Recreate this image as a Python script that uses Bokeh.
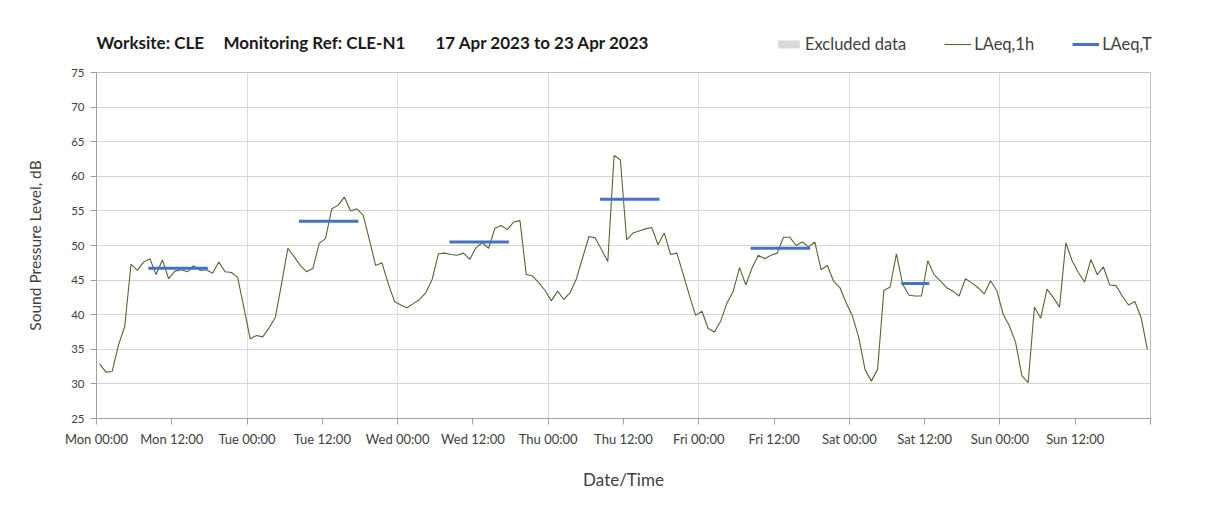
from bokeh.plotting import figure
from bokeh.layouts import column
from bokeh.models import Range1d, FixedTicker, Legend, LegendItem, Label
from bokeh.embed import file_html
from bokeh.resources import INLINE

# ---------------- data ----------------
tick_hours = list(range(0, 169, 12))
tick_labels = ["Mon 00:00", "Mon 12:00", "Tue 00:00", "Tue 12:00", "Wed 00:00",
               "Wed 12:00", "Thu 00:00", "Thu 12:00", "Fri 00:00", "Fri 12:00",
               "Sat 00:00", "Sat 12:00", "Sun 00:00", "Sun 12:00", ""]
day_start_hours = [24, 48, 72, 96, 120, 144]

laeq_1h_mon = [32.9, 31.7, 31.8, 35.6, 38.3, 47.3, 46.4, 47.6, 48.1, 45.8, 47.9, 45.2,
               46.3, 46.5, 46.2, 47.1, 46.4, 46.5, 46.0, 47.6, 46.2, 46.1, 45.4, 41.0]
laeq_1h_tue = [36.5, 37.0, 36.8, 38.1, 39.6, 44.5, 49.6, 48.4, 47.1, 46.2, 46.7, 50.3,
               51.0, 55.3, 55.8, 57.0, 55.0, 55.3, 54.4, 50.8, 47.1, 47.5, 44.5, 41.9]
laeq_1h_wed = [41.4, 41.0, 41.6, 42.2, 43.2, 45.1, 48.8, 48.9, 48.7, 48.6, 48.9, 48.0,
               49.7, 50.4, 49.6, 52.5, 52.9, 52.3, 53.4, 53.6, 45.8, 45.6, 44.6, 43.5]
laeq_1h_thu = [42.0, 43.4, 42.2, 43.2, 45.2, 48.3, 51.3, 51.1, 49.4, 47.7, 63.0, 62.4,
               50.8, 51.8, 52.1, 52.4, 52.6, 50.1, 51.8, 48.7, 48.9, 45.9, 42.8, 39.9]
laeq_1h_fri = [40.5, 38.0, 37.5, 39.1, 41.7, 43.4, 46.8, 44.3, 46.8, 48.6, 48.1, 48.6,
               48.9, 51.2, 51.2, 50.0, 50.5, 49.8, 50.5, 46.5, 47.1, 44.8, 43.9, 41.7]
laeq_1h_sat = [39.8, 36.7, 32.1, 30.4, 32.1, 43.5, 44.0, 48.8, 44.4, 42.8, 42.7, 42.7,
               47.8, 45.8, 44.9, 43.9, 43.4, 42.7, 45.2, 44.6, 43.9, 43.0, 44.9, 43.5]
laeq_1h_sun = [40.1, 38.4, 36.0, 31.2, 30.2, 41.1, 39.5, 43.7, 42.5, 41.1, 50.4, 47.8,
               46.1, 44.7, 48.0, 45.8, 46.9, 44.3, 44.2, 42.7, 41.4, 41.9, 39.6, 35.0]
laeq_1h = (laeq_1h_mon + laeq_1h_tue + laeq_1h_wed + laeq_1h_thu +
           laeq_1h_fri + laeq_1h_sat + laeq_1h_sun)

# LAeq,T assessment periods (first hour, last hour + 1)
period_start = [8, 32, 56, 80, 104, 128]
period_end = [18, 42, 66, 90, 114, 133]
laeq_t = [46.7, 53.5, 50.5, 56.7, 49.6, 44.5]

excluded_start = []
excluded_end = []

title_parts = ["Worksite: CLE", "Monitoring Ref: CLE-N1", "17 Apr 2023 to 23 Apr 2023"]
legend_labels = ["Excluded data", "LAeq,1h", "LAeq,T"]

# hourly values plotted at the middle of each hour
hour_mid = [h + 0.5 for h in range(len(laeq_1h))]
seg_x0 = [s + 0.5 for s in period_start]
seg_x1 = [e - 0.5 for e in period_end]

FONT = "Lato"
TXT = "#404040"
C_1H = "#4f6a30"
C_T = "#4472C4"
C_EXCL = "#d9d9d9"
W = 1200
HEAD_H = 60

# ---------------- main plot ----------------
p = figure(width=W, height=508 - HEAD_H, output_backend="svg", toolbar_location=None,
           x_range=Range1d(0, 168), y_range=Range1d(25, 75),
           min_border_left=96, min_border_right=50, min_border_top=72 - HEAD_H,
           min_border_bottom=90)
p.outline_line_color = "#bfbfbf"
p.background_fill_color = "white"
p.border_fill_color = "white"

p.quad(left=excluded_start, right=excluded_end, bottom=[], top=[],
       fill_color=C_EXCL, line_color=None)
p.line(hour_mid, laeq_1h, line_color=C_1H, line_width=1.1)
p.segment(x0=seg_x0, x1=seg_x1, y0=laeq_t, y1=laeq_t,
          line_color=C_T, line_width=3, line_cap="square")

p.yaxis.ticker = FixedTicker(ticks=list(range(25, 76, 5)))
p.xaxis.ticker = FixedTicker(ticks=tick_hours)
p.xaxis.major_label_overrides = {h: lab for h, lab in zip(tick_hours, tick_labels)}
for ax in (p.xaxis[0], p.yaxis[0]):
    ax.axis_line_color = "#a0a0a0"
    ax.major_tick_line_color = "#a0a0a0"
    ax.major_tick_out = 6
    ax.major_tick_in = 0
    ax.minor_tick_line_color = None
    ax.major_label_text_font = FONT
    ax.major_label_text_color = TXT
    ax.axis_label_text_font = FONT
    ax.axis_label_text_color = TXT
    ax.axis_label_text_font_style = "normal"
p.xaxis.major_label_text_font_size = "13px"
p.yaxis.major_label_text_font_size = "11.5px"
p.xaxis.major_label_standoff = 6
p.yaxis.major_label_standoff = 6
p.xaxis.axis_label = "Date/Time"
p.yaxis.axis_label = "Sound Pressure Level, dB"
p.xaxis.axis_label_text_font_size = "17px"
p.yaxis.axis_label_text_font_size = "15.5px"
p.xaxis.axis_label_standoff = 19
p.yaxis.axis_label_standoff = 24

p.ygrid.ticker = FixedTicker(ticks=list(range(25, 76, 5)))
p.ygrid.grid_line_color = "#d4d4d4"
p.xgrid.ticker = FixedTicker(ticks=day_start_hours)
p.xgrid.grid_line_color = "#dcdcdc"

# ---------------- header (title + legend) ----------------
head = figure(width=W, height=HEAD_H, output_backend="svg", toolbar_location=None,
              x_range=Range1d(0, W), y_range=Range1d(0, HEAD_H),
              min_border=0, x_axis_type=None, y_axis_type=None)
head.frame_align = False
head.outline_line_color = None
head.grid.visible = False
head.background_fill_color = "white"
head.border_fill_color = "white"

title_x = [96, 223, 435]
for t, x in zip(title_parts, title_x):
    head.add_layout(Label(x=x, y=HEAD_H - 42, text=t,
                          text_font=FONT, text_font_style="bold", text_font_size="17px",
                          text_color="#1a1a1a", text_baseline="middle"))

nan = [float("nan")]
h_excl = head.quad(left=nan, right=nan, bottom=nan, top=nan,
                   fill_color=C_EXCL, line_color=None)
h_1h = head.line(nan, nan, line_color=C_1H, line_width=1.1)
h_t = head.line(nan, nan, line_color=C_T, line_width=3)

legend = Legend(items=[LegendItem(label=legend_labels[0], renderers=[h_excl]),
                       LegendItem(label=legend_labels[1], renderers=[h_1h]),
                       LegendItem(label=legend_labels[2], renderers=[h_t])],
                orientation="horizontal", location=(775, HEAD_H - 45 - 9),
                glyph_width=27, glyph_height=10, label_height=16,
                label_standoff=3, spacing=38, padding=0, margin=0,
                border_line_color=None, background_fill_alpha=0,
                label_text_font=FONT, label_text_font_size="16.5px",
                label_text_color=TXT)
head.add_layout(legend, "center")

layout = column(head, p, spacing=0)
open("out.html", "w").write(file_html(layout, INLINE))
